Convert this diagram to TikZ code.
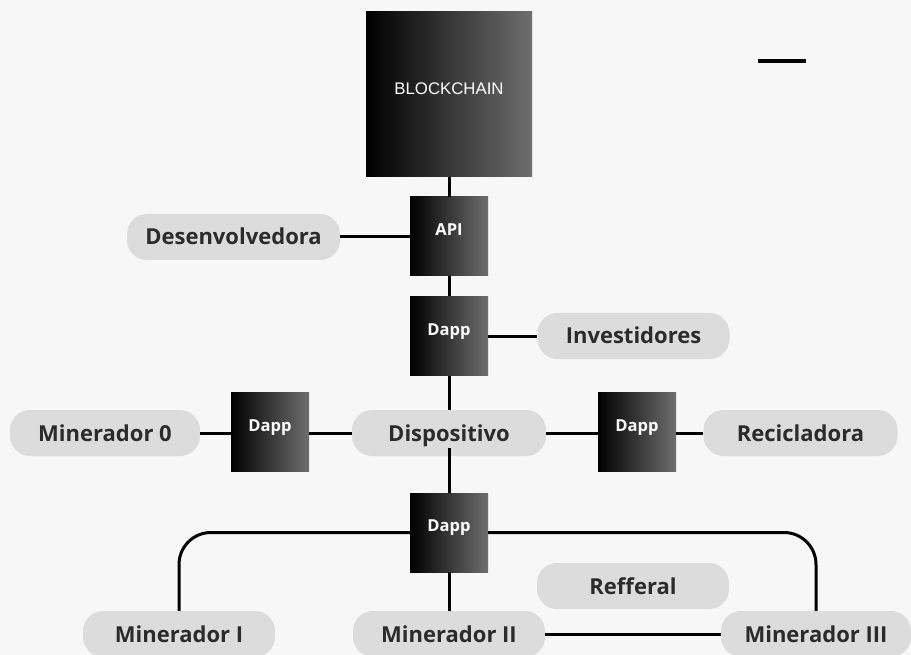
\documentclass[tikz,border=0pt]{standalone}
\usepackage{fontspec}
\setmainfont{Open Sans}
\newfontfamily\boxfont{Liberation Sans}
\definecolor{bg}{HTML}{F7F7F7}
\definecolor{pillfill}{HTML}{DCDCDC}
\definecolor{pilltext}{HTML}{2B2B2B}
\definecolor{boxright}{HTML}{6E6E6E}
\tikzset{
  pill/.style={draw=none, fill=pillfill, rounded corners=20pt, minimum height=46pt,
    minimum width=192pt, inner sep=0pt, text=pilltext, text height=16pt, text depth=-3pt,
    font=\bfseries\fontsize{22}{26}\selectfont},
  gbox/.style={draw=none, left color=black, right color=boxright, shading angle=90,
    minimum width=78pt, minimum height=79pt, inner sep=0pt, text=white,
    text height=12pt, text depth=14pt,
    font=\bfseries\fontsize{16.5}{19}\selectfont},
  conn/.style={line width=3pt, black},
}
\begin{document}
\begin{tikzpicture}[x=1pt, y=-1pt]
\fill[bg] (0,0) rectangle (911,655);
\useasboundingbox (0,0) rectangle (911,655);
% boxes
\node[gbox, minimum width=166pt, minimum height=165pt, text height=12pt, text depth=11pt,
  font=\boxfont\fontsize{16.8}{19}\selectfont] (bc) at (449,94.5) {BLOCKCHAIN};
\node[gbox] (api) at (449,236.5) {API};
\node[gbox] (d1) at (449,336) {Dapp};
\node[gbox] (dl) at (270,432) {Dapp};
\node[gbox] (dr) at (637,432) {Dapp};
\node[gbox] (d4) at (449,532.5) {Dapp};
% pills
\node[pill, minimum width=213pt] (dev) at (233.5,237) {Desenvolvedora};
\node[pill] (inv) at (633.5,336) {Investidores};
\node[pill, minimum width=190pt] (m0) at (105,433) {Minerador 0};
\node[pill, minimum width=194pt] (disp) at (449,433) {Dispositivo};
\node[pill, minimum width=194pt] (rec) at (800.5,433) {Recicladora};
\node[pill] (ref) at (633,586) {Refferal};
\node[pill] (m1) at (179,634) {Minerador I};
\node[pill] (m2) at (449,634) {Minerador II};
\node[pill, minimum width=190pt] (m3) at (816,634) {Minerador III};
% connectors
\draw[conn] (bc.south) -- (api.north);
\draw[conn] (api.south) -- (d1.north);
\draw[conn] (d1.south) -- (disp.north);
\draw[conn] ([yshift=8pt]disp.south) -- (d4.north);
\draw[conn] (d4.south) -- (m2.north);
\draw[conn] (dev.east) -- (api.west |- dev.east);
\draw[conn] (d1.east) -- (inv.west);
\draw[conn] (m0.east) -- (dl.west |- m0.east);
\draw[conn] (dl.east |- disp.west) -- (disp.west);
\draw[conn] (disp.east) -- (dr.west |- disp.east);
\draw[conn] (dr.east |- rec.west) -- (rec.west);
\draw[conn, rounded corners=32pt] (d4.west) -| (m1.north);
\draw[conn, rounded corners=32pt] (d4.east) -| (m3.north);
\draw[conn] (m2.east) -- (m3.west);
% free-standing dash
\draw[line width=3.5pt] (758,61) -- (806,61);
\end{tikzpicture}
\end{document}
